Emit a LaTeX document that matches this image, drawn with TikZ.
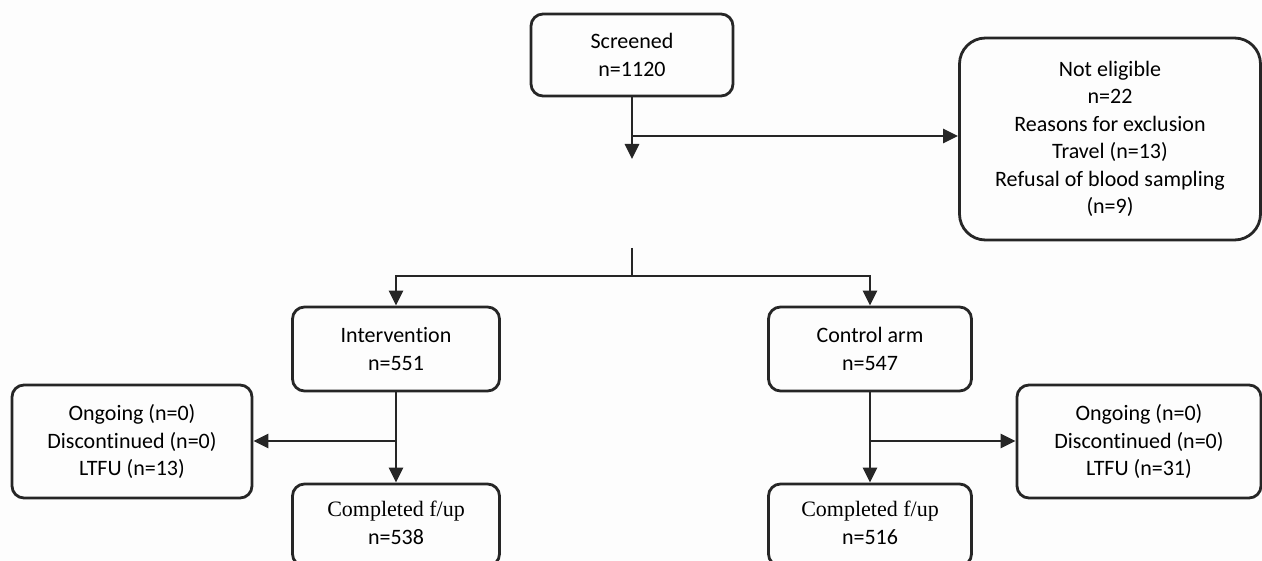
\documentclass[tikz,border=0pt]{standalone}
\usepackage{fontspec}
\setmainfont[Ligatures={NoCommon,NoContextual}]{Carlito}
\newfontfamily\serifnote{Liberation Serif}
\usetikzlibrary{arrows.meta}
\definecolor{ink}{HTML}{262626}
\definecolor{paper}{HTML}{FDFDFD}
\tikzset{
  box/.style={draw=ink, line width=2.8pt, rounded corners=12pt, align=center,
    inner sep=0pt, font=\fontsize{22}{27.5}\selectfont, text=black},
  bigbox/.style={box, rounded corners=26pt},
  link/.style={draw=ink, line width=2.8pt},
  flow/.style={link, -{Triangle[length=15pt,width=14pt]}},
}
\begin{document}
\begin{tikzpicture}[x=1pt,y=-1pt]
  \path[fill=paper] (0,0) rectangle (1262,561);
  \useasboundingbox (0,0) rectangle (1262,561);
  \begin{scope}
    \clip (0,0) rectangle (1262,561);

    % top of the chart
    \node[box, minimum width=202pt, minimum height=82pt] (screen) at (632,55) {Screened\\n=1120};
    \node[bigbox, minimum width=301pt, minimum height=202pt] (notel) at (1110,139)
      {Not eligible\\n=22\\Reasons for exclusion\\Travel (n=13)\\Refusal of blood sampling\\(n=9)};
    \coordinate (drop) at (632,159);
    \coordinate (split) at (632,136);
    \draw[flow] (screen.south) -- (drop);
    \draw[flow] (split) -- (split -| notel.west);

    % randomisation into two arms
    \node[box, minimum width=207pt, minimum height=84pt] (interv) at (396,349) {Interven\kern0pt tion\\n=551};
    \node[box, minimum width=203pt, minimum height=84pt] (control) at (870,349) {Control arm\\n=547};
    \coordinate (stem) at (632,248);
    \coordinate (fork) at (632,276);
    \draw[link] (stem) -- (fork);
    \draw[flow] (fork) -| (interv.north);
    \draw[flow] (fork) -| (control.north);

    % follow-up, intervention arm
    \node[box, minimum width=240pt, minimum height=113pt] (lossI) at (132,441.5)
      {Ongoing (n=0)\\Discontinued (n=0)\\LTFU (n=13)};
    \node[box, minimum width=207pt, minimum height=82pt] (doneI) at (396,525) {};
    \node[font=\fontsize{22}{27.5}\selectfont, align=center] (doneIt) at (396,523)
      {{\serifnote Completed f/up}\\n=538};
    \coordinate (brI) at (396,441);
    \draw[flow] (interv.south) -- (doneI.north);
    \draw[flow] (brI) -- (brI -| lossI.east);

    % follow-up, control arm
    \node[box, minimum width=244pt, minimum height=113pt] (lossC) at (1139,441.5)
      {Ongoing (n=0)\\Discontinued (n=0)\\LTFU (n=31)};
    \node[box, minimum width=203pt, minimum height=82pt] (doneC) at (870,525) {};
    \node[font=\fontsize{22}{27.5}\selectfont, align=center] (doneCt) at (870,523)
      {{\serifnote Completed f/up}\\n=516};
    \coordinate (brC) at (870,441);
    \draw[flow] (control.south) -- (doneC.north);
    \draw[flow] (brC) -- (brC -| lossC.west);
  \end{scope}
\end{tikzpicture}
\end{document}
